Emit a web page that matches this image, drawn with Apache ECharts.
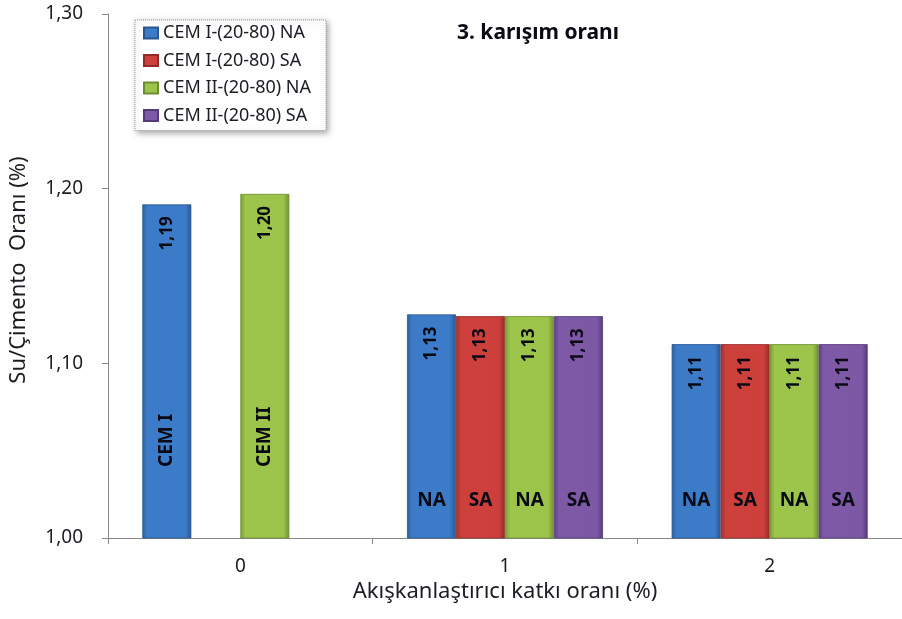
<!DOCTYPE html>
<html>
<head>
<meta charset="utf-8">
<script src="https://cdn.jsdelivr.net/npm/echarts@6/dist/echarts.min.js"></script>
<style>
  html, body { margin: 0; padding: 0; background: #ffffff; }
  #chart { width: 902px; height: 619px; }
</style>
</head>
<body>
<div id="chart"></div>
<script>
// ---- data ----
var categories = ['0', '1', '2'];
var seriesNames = ['CEM I-(20-80) NA', 'CEM I-(20-80) SA', 'CEM II-(20-80) NA', 'CEM II-(20-80) SA'];
var cem1NA = [1.191, 1.128, 1.111];
var cem1SA = [null, 1.127, 1.111];
var cem2NA = [1.197, 1.127, 1.111];
var cem2SA = [null, 1.127, 1.111];
var bottomLabelsCem1NA = ['CEM I', 'NA', 'NA'];
var bottomLabelsCem1SA = ['', 'SA', 'SA'];
var bottomLabelsCem2NA = ['CEM II', 'NA', 'NA'];
var bottomLabelsCem2SA = ['', 'SA', 'SA'];
var yTicks = [1.0, 1.1, 1.2, 1.3];
var titleText = '3. karışım oranı';
var xAxisTitle = 'Akışkanlaştırıcı katkı oranı (%)';
var yAxisTitle = 'Su/Çimento  Oranı (%)';

// ---- styles ----
var FONT = 'Noto Sans';
var TXT = '#1c1c24';
var palettes = [
  ['#2d5f9c', '#3b7bc7', '#3b7bc7', '#2a5690'],
  ['#9c2f2c', '#cd403c', '#cc3f3b', '#922b28'],
  ['#789a36', '#9dc44b', '#9cc34a', '#6f8e31'],
  ['#5c3f80', '#7d59a6', '#7c58a5', '#553a78']
];
var baseColors = ['#3b7bc7', '#cd403c', '#9dc44b', '#7d59a6'];
function grad(p) {
  return new echarts.graphic.LinearGradient(0, 0, 1, 0, [
    { offset: 0, color: p[0] },
    { offset: 0.1, color: p[1] },
    { offset: 0.88, color: p[2] },
    { offset: 1, color: p[3] }
  ]);
}
function fmt(v) { return Number(v).toFixed(2).replace('.', ','); }

var valueArrays = [cem1NA, cem1SA, cem2NA, cem2SA];
var bottomArrays = [bottomLabelsCem1NA, bottomLabelsCem1SA, bottomLabelsCem2NA, bottomLabelsCem2SA];

var series = [];
valueArrays.forEach(function (arr, i) {
  series.push({
    name: seriesNames[i],
    type: 'bar',
    xAxisIndex: 0,
    barWidth: 49,
    barGap: '0%',
    data: arr.map(function (v) { return v === null ? '-' : v; }),
    itemStyle: { color: grad(palettes[i]), borderColor: palettes[i][3], borderWidth: 0.8 },
    label: {
      show: true,
      position: 'insideTop',
      distance: 15,
      rotate: 90,
      align: 'right',
      verticalAlign: 'middle',
      offset: [3, 0],
      formatter: function (p) { return fmt(p.value); },
      fontFamily: FONT, fontSize: 17, fontWeight: 'bold', color: '#0a0a14'
    }
  });
});
bottomArrays.forEach(function (labels, i) {
  var data = valueArrays[i].map(function (v, j) {
    if (v === null) return '-';
    if (j === 0) {
      return {
        value: v,
        label: { position: 'insideBottom', distance: 71, rotate: 90, align: 'left', verticalAlign: 'middle' }
      };
    }
    return v;
  });
  series.push({
    name: seriesNames[i] + ' etiket',
    type: 'bar',
    xAxisIndex: 1,
    barWidth: 49,
    barGap: '0%',
    silent: true,
    data: data,
    itemStyle: { color: 'rgba(0,0,0,0)' },
    label: {
      show: true,
      position: 'insideBottom',
      distance: 28,
      formatter: function (p) { return labels[p.dataIndex]; },
      fontFamily: FONT, fontSize: 19, fontWeight: 'bold', color: '#0a0a14'
    },
    z: 3
  });
});

var chart = echarts.init(document.getElementById('chart'), null, { renderer: 'canvas' });
chart.setOption({
  animation: false,
  backgroundColor: '#ffffff',
  color: baseColors,
  title: {
    text: titleText,
    left: 457, top: 23, padding: 0,
    textStyle: { fontFamily: FONT, fontSize: 21, fontWeight: 'bold', color: '#0a0a14' }
  },
  legend: {
    data: seriesNames,
    orient: 'vertical',
    left: 135, top: 20,
    padding: [4, 15, 6, 8],
    itemGap: 9.5,
    itemWidth: 14, itemHeight: 11,
    icon: 'rect',
    backgroundColor: '#ffffff',
    borderColor: '#9a9a9a', borderWidth: 1, borderType: 'dotted',
    shadowBlur: 6, shadowColor: 'rgba(0,0,0,0.35)', shadowOffsetX: 2, shadowOffsetY: 2,
    textStyle: { fontFamily: FONT, fontSize: 18, lineHeight: 18, color: TXT }
  },
  grid: { left: 103, top: 14, width: 806, height: 524, containLabel: false },
  xAxis: [{
    type: 'category',
    data: categories,
    axisLine: { lineStyle: { color: '#888888', width: 1 } },
    axisTick: { show: true, length: 6, lineStyle: { color: '#888888' } },
    axisLabel: { margin: 19, fontFamily: FONT, fontSize: 19, color: TXT },
    name: xAxisTitle,
    nameLocation: 'middle',
    nameGap: 40,
    nameTextStyle: { fontFamily: FONT, fontSize: 22, color: TXT }
  }, {
    type: 'category',
    data: categories,
    show: false
  }],
  yAxis: {
    type: 'value',
    min: yTicks[0], max: yTicks[yTicks.length - 1], interval: 0.1,
    splitLine: { show: false },
    axisLine: { show: true, lineStyle: { color: '#888888', width: 1 } },
    axisTick: { show: true, length: 6, lineStyle: { color: '#888888' } },
    axisLabel: { margin: 25, fontFamily: FONT, fontSize: 19, color: TXT, formatter: fmt },
    name: yAxisTitle,
    nameLocation: 'middle',
    nameRotate: 90,
    nameGap: 78,
    nameTextStyle: { fontFamily: FONT, fontSize: 22, color: TXT, padding: [0, 0, 0, 12] }
  },
  series: series
});
</script>
</body>
</html>
